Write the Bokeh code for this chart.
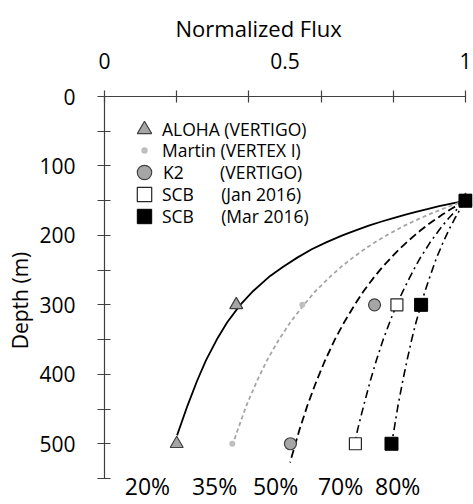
from bokeh.plotting import figure
from bokeh.models import Range1d, LinearAxis, FixedTicker, Legend, LegendItem, Title
from bokeh.core.properties import value
from bokeh.embed import file_html
from bokeh.resources import INLINE

# ---------------- data ----------------
sample_depth = [150, 300, 500]
aloha_flux = [1.0, 0.365, 0.20]
martin_flux = [1.0, 0.548, 0.354]
k2_flux = [1.0, 0.748, 0.515]
scb_jan_flux = [1.0, 0.81, 0.695]
scb_mar_flux = [1.0, 0.877, 0.795]

# attenuation curves, flux
curve_depth = [150, 152, 155, 158, 162, 166, 170, 175, 180, 186, 193, 200,
               210, 220, 232, 245, 260, 280, 300, 325, 350, 380, 410, 445]
aloha_curve_depth = curve_depth + [488]
aloha_curve_flux = [1.0, 0.981, 0.954, 0.927, 0.894, 0.863, 0.834, 0.800, 0.768, 0.732, 0.694, 0.659,
                    0.614, 0.574, 0.534, 0.495, 0.455, 0.412, 0.376, 0.340, 0.311, 0.281, 0.256, 0.230,
                    0.201]
martin_curve_depth = curve_depth + [480, 500]
martin_curve_flux = [1.0, 0.989, 0.972, 0.956, 0.936, 0.917, 0.898, 0.876, 0.855, 0.831, 0.806, 0.781,
                     0.749, 0.720, 0.688, 0.656, 0.624, 0.585, 0.552, 0.515, 0.483, 0.450, 0.422, 0.393,
                     0.369, 0.356]
k2_curve_depth = curve_depth + [480, 527]
k2_curve_flux = [1.0, 0.993, 0.983, 0.973, 0.960, 0.948, 0.936, 0.922, 0.908, 0.892, 0.875, 0.859,
                 0.837, 0.816, 0.794, 0.771, 0.747, 0.718, 0.693, 0.664, 0.638, 0.611, 0.587, 0.562,
                 0.540, 0.514]
jan_curve_depth = curve_depth + [480, 500]
jan_curve_flux = [1.0, 0.996, 0.990, 0.984, 0.977, 0.970, 0.963, 0.954, 0.946, 0.936, 0.926, 0.916,
                  0.902, 0.890, 0.875, 0.861, 0.846, 0.827, 0.809, 0.790, 0.772, 0.753, 0.736, 0.718,
                  0.701, 0.693]
mar_curve_depth = curve_depth + [480, 495]
mar_curve_flux = [1.0, 0.997, 0.994, 0.990, 0.985, 0.981, 0.977, 0.971, 0.966, 0.960, 0.953, 0.947,
                  0.938, 0.930, 0.920, 0.911, 0.901, 0.888, 0.877, 0.863, 0.851, 0.838, 0.826, 0.813,
                  0.802, 0.797]

series_names = ["ALOHA (VERTIGO)", "Martin (VERTEX I)", "K2 (VERTIGO)", "SCB (Jan 2016)", "SCB (Mar 2016)"]
pct_labels = ["20%", "35%", "50%", "70%", "80%"]

x_ticks = [0, 0.5, 1]
x_tick_labels = ["0", "0.5", "1"]
depth_ticks = [0, 100, 200, 300, 400, 500]

# ---------------- layout constants ----------------
FONT = "Open Sans"
PX_PER_FLUX = 361.0
PX_PER_M = 0.6945
FRAME_W = 368
FRAME_H = 408
pct_label_x = [0.119, 0.305, 0.474, 0.654, 0.812]
pct_label_depth = 561.5

p = figure(frame_width=FRAME_W, frame_height=FRAME_H,
           x_range=Range1d(0, FRAME_W / PX_PER_FLUX),
           y_range=Range1d(FRAME_H / PX_PER_M, 0),
           x_axis_location=None, y_axis_location=None,
           output_backend="svg", toolbar_location=None,
           min_border_left=104, min_border_top=96, min_border_right=1, min_border_bottom=0,
           outline_line_color=None, background_fill_color="white", border_fill_color="white")
p.xgrid.grid_line_color = None
p.ygrid.grid_line_color = None

AX_COL = "#404040"

# top axis
xax = LinearAxis(ticker=FixedTicker(ticks=x_ticks, minor_ticks=[0, 0.2, 0.4, 0.6, 0.8, 1.0]),
                 bounds=(0, 1),
                 major_label_overrides={float(t): s for t, s in zip(x_ticks, x_tick_labels)},
                 major_tick_in=0, major_tick_out=0, minor_tick_in=6, minor_tick_out=6,
                 axis_line_color=AX_COL, minor_tick_line_color=AX_COL, axis_line_width=1.2,
                 minor_tick_line_width=1.2,
                 major_label_standoff=22, major_label_text_font=FONT,
                 major_label_text_font_size="21px", major_label_text_color="black")
p.add_layout(xax, "above")

# left axis
yax = LinearAxis(ticker=FixedTicker(ticks=depth_ticks, minor_ticks=list(range(0, 551, 50))),
                 bounds=(0, 550),
                 major_tick_in=0, major_tick_out=0, minor_tick_in=6, minor_tick_out=7,
                 axis_line_color=AX_COL, minor_tick_line_color=AX_COL, axis_line_width=1.2,
                 minor_tick_line_width=1.2,
                 major_label_standoff=22, major_label_text_font=FONT,
                 major_label_text_font_size="21px", major_label_text_color="black",
                 axis_label="Depth (m)", axis_label_standoff=2,
                 axis_label_text_font=FONT, axis_label_text_font_size="21px",
                 axis_label_text_font_style="normal", axis_label_text_color="black")
p.add_layout(yax, "left")

p.title = Title(text="Normalized Flux", align="left", offset=71, text_font=FONT, standoff=14,
                text_font_size="22px", text_font_style="normal", text_color="black")

# curves
LW = 1.8
p.line(aloha_curve_flux, aloha_curve_depth, line_color="black", line_width=LW, line_join="round")
p.line(martin_curve_flux, martin_curve_depth, line_color="#a6a6a6", line_width=LW, line_dash="4 3",
       line_join="round")
p.line(k2_curve_flux, k2_curve_depth, line_color="black", line_width=LW, line_dash="8 4", line_join="round")
p.line(jan_curve_flux, jan_curve_depth, line_color="black", line_width=1.6, line_dash="8 4 2 4",
       line_join="round")
p.line(mar_curve_flux, mar_curve_depth, line_color="black", line_width=1.6, line_dash="8 4 2 4",
       line_join="round")

# sample points
r_aloha = p.scatter(aloha_flux, sample_depth, marker="triangle", size=13,
                    fill_color="#a6a6a6", line_color="#404040", line_width=1.2)
r_martin = p.scatter(martin_flux, sample_depth, marker="circle", size=6,
                     fill_color="#bfbfbf", line_color=None)
r_k2 = p.scatter(k2_flux, sample_depth, marker="circle", size=12,
                 fill_color="#a6a6a6", line_color="#404040", line_width=1.2)
r_jan = p.scatter(scb_jan_flux, sample_depth, marker="square", size=12,
                  fill_color="white", line_color="#262626", line_width=1.2)
r_mar = p.scatter(scb_mar_flux, sample_depth, marker="square", size=13,
                  fill_color="black", line_color="black", line_width=1)

# percentage labels under the curves
p.text(x=pct_label_x, y=[pct_label_depth] * len(pct_labels), text=pct_labels,
       text_align="center", text_baseline="middle", text_font=value(FONT),
       text_font_size="23px", text_color="black")

# legend: one small legend per row so each glyph can have its own size
NB = "\u00a0"
legend_labels = [
    "ALOHA" + NB + "(VERTIGO)",
    "Martin" + NB + "(VERTEX" + NB + "I)",
    "K2" + NB * 8 + "(VERTIGO)",
    "SCB" + NB * 6 + "(Jan" + NB + "2016)",
    "SCB" + NB * 6 + "(Mar" + NB + "2016)",
]
renderers = [r_aloha, r_martin, r_k2, r_jan, r_mar]
glyph_w = [36, 16, 38, 36, 36]
row_center = [129, 150, 172, 194, 216]
GH = 36
for lab, rend, gw, c in zip(legend_labels, renderers, glyph_w, row_center):
    lx = 40 - gw / 2.0
    ly = (96 + FRAME_H) - (c + GH / 2.0)
    leg = Legend(items=[LegendItem(label=lab, renderers=[rend])],
                 location=(lx, ly), glyph_width=gw, glyph_height=GH,
                 label_height=GH, label_standoff=max(0, int(round(58 - lx - gw))),
                 padding=0, margin=0, spacing=0,
                 border_line_color=None, background_fill_alpha=0,
                 label_text_font=FONT, label_text_font_size="17.5px", label_text_color="black")
    p.add_layout(leg, "center")

open("out.html", "w").write(file_html(p, INLINE))
